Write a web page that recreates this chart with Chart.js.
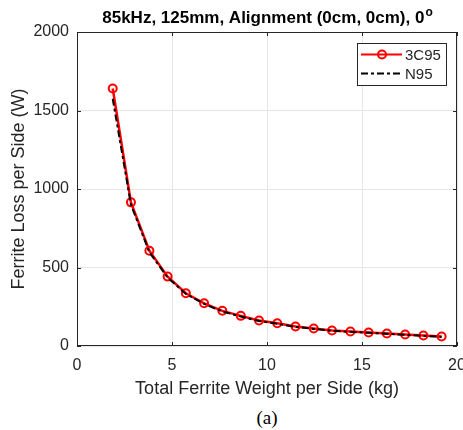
<!DOCTYPE html>
<html>
<head>
<meta charset="utf-8">
<script src="https://cdn.jsdelivr.net/npm/chart.js@4.4.0/dist/chart.umd.min.js"></script>
<style>
  html, body { margin: 0; padding: 0; background: #fff; overflow: hidden; }
  #wrap { position: relative; width: 468px; height: 400px; }
  #caption { position: absolute; left: 167px; top: 406px; width: 200px; text-align: center;
    font-family: "Liberation Serif", "Times New Roman", serif; font-size: 19px; line-height: 24px; color: #000; }
</style>
</head>
<body>
<div id="wrap"><canvas id="myChart" width="468" height="400"></canvas></div>
<div id="caption">(a)</div>
<script>
// ferrite weight per side (kg)
const weights = [1.88, 2.84, 3.81, 4.77, 5.73, 6.69, 7.65, 8.62, 9.58, 10.54,
                 11.50, 12.46, 13.42, 14.39, 15.35, 16.31, 17.27, 18.23, 19.19];
// ferrite loss per side (W)
const loss3C95 = [1640, 915, 607, 442, 336, 272, 224, 192, 162, 145,
                  124, 111, 99, 92, 86, 80, 73, 67, 60];
const lossN95 = [1575, 900, 597, 436, 332, 268, 220, 188, 159, 142,
                 122, 109, 97, 90, 84, 78, 71, 65, 58];
const seriesNames = ["3C95", "N95"];
const xTicks = [0, 5, 10, 15, 20];
const yTicks = [0, 500, 1000, 1500, 2000];
const titleText = "85kHz, 125mm, Alignment (0cm, 0cm), 0";
const titleSup = "o";

const fontFam = "'Liberation Sans', Arial, Helvetica, sans-serif";
const textCol = "#262626";

function toPoints(xs, ys) {
  return xs.map((x, i) => ({ x: x, y: ys[i] }));
}

// title with the little superscript, centred over the axes
const titlePlugin = {
  id: "axTitle",
  afterDraw(chart) {
    const ctx = chart.ctx;
    const a = chart.chartArea;
    ctx.save();
    ctx.fillStyle = "#000";
    ctx.textBaseline = "alphabetic";
    ctx.font = "bold 17px " + fontFam;
    const w1 = ctx.measureText(titleText).width;
    ctx.font = "bold 12px " + fontFam;
    const w2 = ctx.measureText(titleSup).width;
    const x0 = (a.left + a.right) / 2 - (w1 + w2) / 2;
    ctx.font = "bold 17px " + fontFam;
    ctx.fillText(titleText, x0, 23);
    ctx.font = "bold 12px " + fontFam;
    ctx.fillText(titleSup, x0 + w1 + 1, 16);
    ctx.restore();
  }
};

// box around the axes, like matlab
const boxPlugin = {
  id: "box",
  afterDraw(chart) {
    const ctx = chart.ctx;
    const a = chart.chartArea;
    ctx.save();
    ctx.strokeStyle = textCol;
    ctx.lineWidth = 1;
    ctx.strokeRect(a.left + 0.5, a.top + 0.5, a.right - a.left - 1, a.bottom - a.top - 1);
    // inward ticks
    const xs = chart.scales.x, ys = chart.scales.y;
    ctx.beginPath();
    xTicks.forEach(t => {
      const px = Math.round(xs.getPixelForValue(t)) + 0.5;
      ctx.moveTo(px, a.bottom); ctx.lineTo(px, a.bottom - 4);
      ctx.moveTo(px, a.top); ctx.lineTo(px, a.top + 4);
    });
    yTicks.forEach(t => {
      const py = Math.round(ys.getPixelForValue(t)) + 0.5;
      ctx.moveTo(a.left, py); ctx.lineTo(a.left + 4, py);
      ctx.moveTo(a.right, py); ctx.lineTo(a.right - 4, py);
    });
    ctx.stroke();
    ctx.restore();
  }
};

// legend box drawn inside the plot, top right
const legendPlugin = {
  id: "legendBox",
  afterDraw(chart) {
    const ctx = chart.ctx;
    const a = chart.chartArea;
    const w = 89, h = 42;
    const x0 = a.right - 11 - w, y0 = a.top + 11;
    ctx.save();
    ctx.fillStyle = "#fff";
    ctx.fillRect(x0, y0, w, h);
    ctx.strokeStyle = textCol;
    ctx.lineWidth = 1;
    ctx.strokeRect(x0 + 0.5, y0 + 0.5, w, h);
    ctx.font = "15px " + fontFam;
    ctx.textBaseline = "middle";
    chart.data.datasets.forEach((ds, i) => {
      const yy = y0 + 11.5 + i * 19;
      ctx.strokeStyle = ds.borderColor;
      ctx.lineWidth = 2;
      ctx.setLineDash(ds.borderDash || []);
      ctx.beginPath();
      ctx.moveTo(x0 + 4, yy); ctx.lineTo(x0 + 45, yy);
      ctx.stroke();
      ctx.setLineDash([]);
      if (ds.pointRadius > 0) {
        ctx.beginPath();
        ctx.arc(x0 + 25, yy, 4, 0, Math.PI * 2);
        ctx.stroke();
      }
      ctx.fillStyle = textCol;
      ctx.fillText(ds.label, x0 + 48, yy + 1);
    });
    ctx.restore();
  }
};

const data = {
  datasets: [{
    label: seriesNames[0],
    data: toPoints(weights, loss3C95),
    borderColor: "#ff0000",
    borderWidth: 2.5,
    pointRadius: 4,
    pointBorderWidth: 2,
    pointBorderColor: "#ff0000",
    pointBackgroundColor: "rgba(255,255,255,0)",
    order: 2
  }, {
    label: seriesNames[1],
    data: toPoints(weights, lossN95),
    borderColor: "#000000",
    borderWidth: 2,
    borderDash: [7, 3, 3, 3],
    pointRadius: 0,
    order: 1
  }]
};

const config = {
  type: "line",
  data: data,
  plugins: [boxPlugin, legendPlugin, titlePlugin],
  options: {
    responsive: false,
    animation: false,
    layout: { padding: { left: 0, right: 11, top: 32, bottom: 0 } },
    plugins: {
      legend: { display: false },
      tooltip: { enabled: false },
      title: { display: false }
    },
    scales: {
      x: {
        type: "linear",
        min: 0, max: 20,
        afterBuildTicks: (s) => { s.ticks = xTicks.map(v => ({ value: v })); },
        afterFit: (s) => { s.height = 54; s.paddingLeft = 0; s.paddingRight = 0; },
        grid: { color: "#e6e6e6", drawTicks: false },
        border: { display: false },
        ticks: { color: textCol, font: { family: fontFam, size: 16 }, padding: 10, maxRotation: 0,
                 callback: (v) => String(v) },
        title: { display: true, text: "Total Ferrite Weight per Side (kg)", color: textCol,
                 font: { family: fontFam, size: 18 }, padding: { top: 3, bottom: 0 } }
      },
      y: {
        type: "linear",
        min: 0, max: 2000,
        afterBuildTicks: (s) => { s.ticks = yTicks.map(v => ({ value: v })); },
        afterFit: (s) => { s.width = 77; s.paddingTop = 0; s.paddingBottom = 0; },
        grid: { color: "#e6e6e6", drawTicks: false },
        border: { display: false },
        ticks: { color: textCol, font: { family: fontFam, size: 16 }, padding: 8,
                 callback: (v) => String(v) },
        title: { display: true, text: "Ferrite Loss per Side (W)", color: textCol,
                 font: { family: fontFam, size: 18 }, padding: { top: 8, bottom: 0 } }
      }
    }
  }
};

const myChart = new Chart(document.getElementById("myChart"), config);
</script>
</body>
</html>
